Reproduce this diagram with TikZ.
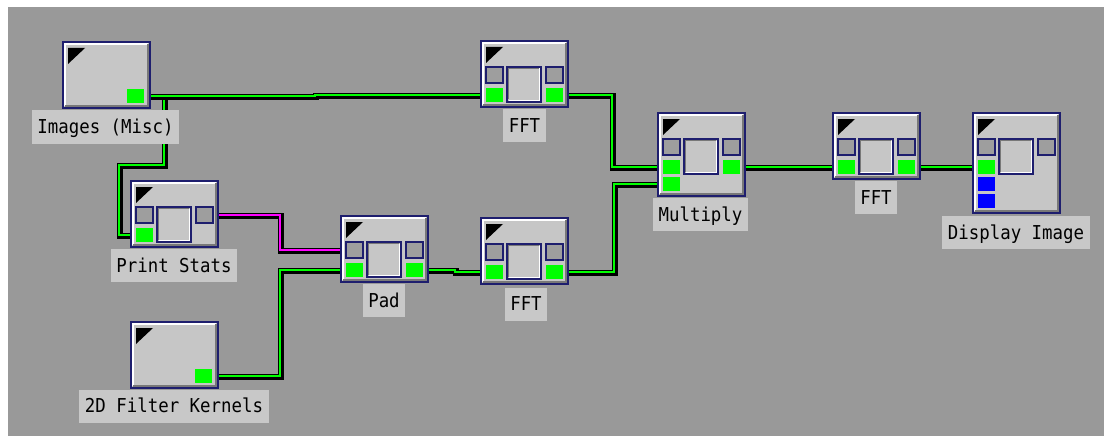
\documentclass[tikz,border=0pt]{standalone}
\usepackage{fontspec}
\newfontfamily\labfont{DejaVu Sans Mono}
\usetikzlibrary{calc}
\definecolor{bgray}{RGB}{153,153,153}
\definecolor{boxfill}{RGB}{198,198,198}
\definecolor{labfill}{RGB}{200,200,200}
\definecolor{navy}{RGB}{30,30,110}
\definecolor{portgray}{RGB}{158,158,158}
\definecolor{bevdark}{RGB}{120,120,120}
\definecolor{wgreen}{RGB}{0,255,0}
\definecolor{wmag}{RGB}{255,0,255}
\definecolor{pblue}{RGB}{0,0,255}
\pgfdeclarelayer{back}
\pgfdeclarelayer{wires}
\pgfsetlayers{back,wires,main}
\tikzset{
  modbox/.style={draw=navy, line width=1.5pt, fill=boxfill, minimum width=87pt,
    inner sep=0pt, outer sep=0pt, anchor=north west},
  grayport/.style={draw=navy, line width=1.2pt, fill=portgray, minimum width=17pt,
    minimum height=16pt, inner sep=0pt, outer sep=0pt, anchor=north west},
  centersq/.style={draw=navy, line width=1.5pt, fill=boxfill, minimum width=34pt,
    minimum height=35pt, inner sep=0pt, outer sep=0pt, anchor=north west},
  portsq/.style={draw=none, fill=#1, minimum width=17pt, minimum height=14pt,
    inner sep=0pt, outer sep=0pt, anchor=north west},
  lab/.style={fill=labfill, inner xsep=5.5pt, inner ysep=0pt, minimum height=33pt,
    text height=14pt, text depth=1pt, text=black,
    font=\labfont\fontsize{17.4}{20}\selectfont},
  wire/.style={draw=#1, line width=2.4pt, line join=miter,
    preaction={draw=black, line width=6pt, transform canvas={shift={(0.8pt,-0.8pt)}}}},
  wire/.default=wgreen
}
\newcommand\modnode[4]{%
  \node[modbox, minimum height=#4pt] (#1) at (#2,#3) {};
  \draw[white, line width=2pt] ($(#1.south west)+(1.75,-2)$) |- ($(#1.north east)+(-2,1.75)$);
  \draw[bevdark, line width=2.5pt] ($(#1.south west)+(2,-2)$) -| ($(#1.north east)+(-2,2)$);
  \fill[black] ($(#1.north west)+(5,6)$) -- ++(17,0) -- ++(-17,16) -- cycle;
}
\newcommand\procports[1]{%
  \node[grayport] (#1-gl) at ($(#1.north west)+(5,26)$) {};
  \node[centersq] (#1-c) at ($(#1.north west)+(26,26)$) {};
  \draw[bevdark, line width=1.2pt] ($(#1-c.south west)+(1.4,-2.5)$) |- ($(#1-c.north east)+(-2.5,1.4)$);
  \draw[white, line width=1.5pt] ($(#1-c.north east)+(-1.5,1.5)$) |- ($(#1-c.south west)+(1.5,-1.5)$);
  \node[grayport] (#1-gr) at ($(#1.north west)+(65,26)$) {};
}
\newcommand\portat[5]{%
  \node[portsq=#5] (#1-#2) at ($(#1.north west)+(#3,#4)$) {};
}
\begin{document}
\begin{tikzpicture}[x=1pt, y=-1pt]
\useasboundingbox (0,0) rectangle (1104,436);
\begin{pgfonlayer}{back}
  \fill[white] (0,0) rectangle (1104,436);
  \fill[bgray] (8,7) rectangle (1104,436);
\end{pgfonlayer}

% modules
\modnode{img}{63}{42}{66}
\portat{img}{go}{64}{47}{wgreen}

\modnode{ps}{131}{181}{66}
\procports{ps}
\portat{ps}{gi}{5}{47}{wgreen}

\modnode{flt}{131}{322}{66}
\portat{flt}{go}{64}{47}{wgreen}

\modnode{fft1}{481}{41}{66}
\procports{fft1}
\portat{fft1}{gi}{5}{47}{wgreen}
\portat{fft1}{go}{65}{47}{wgreen}

\modnode{pad}{341}{216}{66}
\procports{pad}
\portat{pad}{gi}{5}{47}{wgreen}
\portat{pad}{go}{65}{47}{wgreen}

\modnode{fft2}{481}{218}{66}
\procports{fft2}
\portat{fft2}{gi}{5}{47}{wgreen}
\portat{fft2}{go}{65}{47}{wgreen}

\modnode{mul}{658}{113}{83}
\procports{mul}
\portat{mul}{gi}{5}{47}{wgreen}
\portat{mul}{gi2}{5}{64}{wgreen}
\portat{mul}{go}{65}{47}{wgreen}

\modnode{fft3}{833}{113}{66}
\procports{fft3}
\portat{fft3}{gi}{5}{47}{wgreen}
\portat{fft3}{go}{65}{47}{wgreen}

\modnode{disp}{973}{113}{100}
\procports{disp}
\portat{disp}{gi}{5}{47}{wgreen}
\portat{disp}{bi2}{5}{64}{pblue}
\portat{disp}{bi3}{5}{81}{pblue}

% labels
\node[lab] (img-l) at (105.5,127) {\scalebox{1}[1.1]{Images (Misc)}};
\node[lab] (ps-l) at (174,265.5) {\scalebox{1}[1.1]{Print Stats}};
\node[lab] (fft1-l) at (524.5,125.5) {\scalebox{1}[1.1]{FFT}};
\node[lab] (pad-l) at (384,300.5) {\scalebox{1}[1.1]{Pad}};
\node[lab] (fft2-l) at (526,304) {\scalebox{1}[1.1]{FFT}};
\node[lab] (mul-l) at (700.5,214.5) {\scalebox{1}[1.1]{Multiply}};
\node[lab] (fft3-l) at (876,197.5) {\scalebox{1}[1.1]{FFT}};
\node[lab] (disp-l) at (1016,232.5) {\scalebox{1}[1.1]{Display Image}};
\node[lab] (flt-l) at (174,406) {\scalebox{1}[1.1]{2D Filter Kernels}};

% wires
\begin{pgfonlayer}{wires}
  \draw[wire] (img.east |- img-go) -- (164,96) -- (164,165) -- (119,165) -- (119,235) -- (ps.west |- ps-gi);
  \draw[wire] (img.east |- img-go) -- (315,96) -- (315,95) -- (fft1.west |- fft1-gi);
  \draw[wire=wmag] (ps.east |- ps-gr) -- (280,215) -- (280,250) -- (pad.west |- pad-gl);
  \draw[wire] (flt.east |- flt-go) -- (280,376) -- (280,270) -- (pad.west |- pad-gi);
  \draw[wire] (pad.east |- pad-go) -- (455,270) -- (455,272) -- (fft2.west |- fft2-gi);
  \draw[wire] (fft2.east |- fft2-go) -- (614,272) -- (614,184) -- (mul.west |- mul-gi2);
  \draw[wire] (fft1.east |- fft1-go) -- (612,95) -- (612,167) -- (mul.west |- mul-gi);
  \draw[wire] (mul.east |- mul-go) -- (fft3.west |- fft3-gi);
  \draw[wire] (fft3.east |- fft3-go) -- (disp.west |- disp-gi);
\end{pgfonlayer}
\end{tikzpicture}
\end{document}
